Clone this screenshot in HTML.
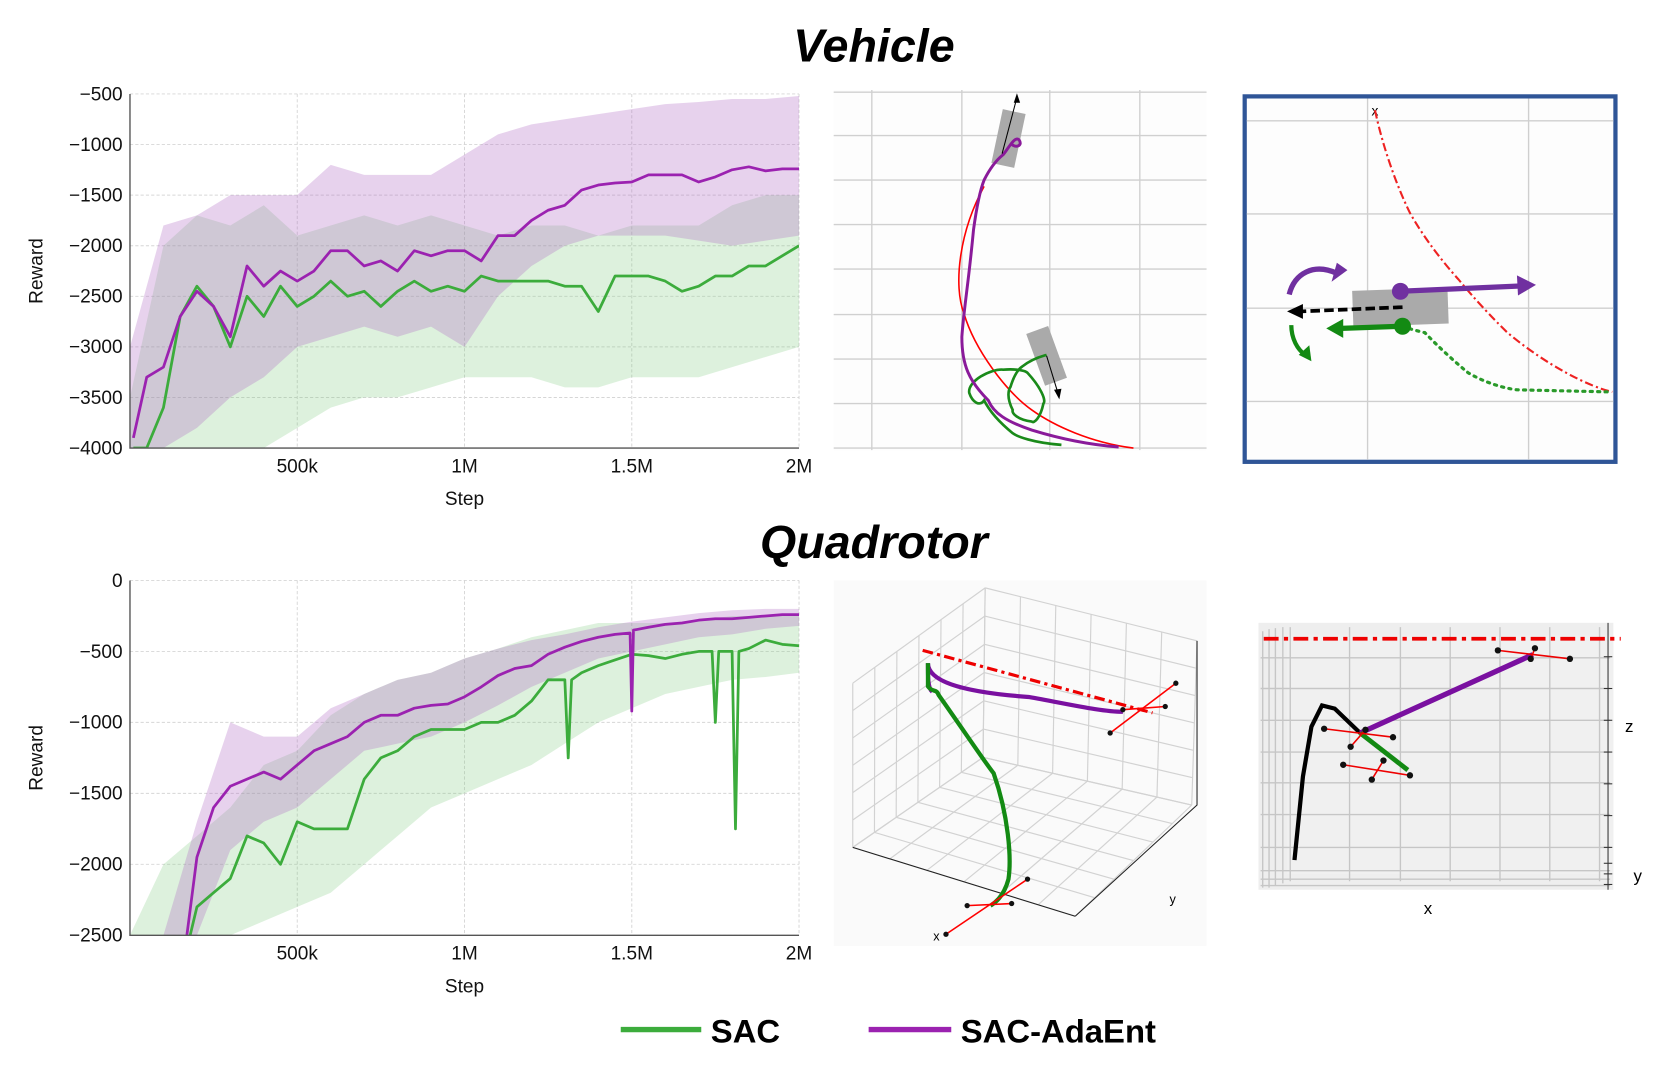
<!DOCTYPE html>
<html><head><meta charset="utf-8"><style>
html,body{margin:0;padding:0;background:#fff;}
svg{display:block;font-family:"Liberation Sans",sans-serif;}
</style></head><body>
<svg id="fig" width="1661" height="1073" viewBox="0 0 1568 1013" preserveAspectRatio="none">
<rect x="0" y="0" width="1568" height="1013" fill="#fff"/>
<text x="825" y="58" text-anchor="middle" font-size="44" font-weight="bold" font-style="italic">Vehicle</text>
<text x="825" y="527" text-anchor="middle" font-size="44" font-weight="bold" font-style="italic">Quadrotor</text>
<g id="chartV"></g>
<g id="chartQ"></g>

<!-- Vehicle trajectory panel -->
<g>
<rect x="787" y="85" width="352" height="340" fill="#fdfdfd"/>
<g stroke="#d0d0d0" stroke-width="1.3">
<line x1="787" y1="87" x2="1139" y2="87"/><line x1="787" y1="128" x2="1139" y2="128"/><line x1="787" y1="170" x2="1139" y2="170"/><line x1="787" y1="212" x2="1139" y2="212"/><line x1="787" y1="254" x2="1139" y2="254"/><line x1="787" y1="297" x2="1139" y2="297"/><line x1="787" y1="339" x2="1139" y2="339"/><line x1="787" y1="381" x2="1139" y2="381"/><line x1="787" y1="423" x2="1139" y2="423"/>
<line x1="823" y1="85" x2="823" y2="425"/><line x1="908" y1="85" x2="908" y2="425"/><line x1="991" y1="85" x2="991" y2="425"/><line x1="1076" y1="85" x2="1076" y2="425"/>
</g>
<rect x="941" y="105" width="22" height="52" fill="#aaa" transform="rotate(12 953 131)"/>
<rect x="977" y="310" width="22" height="52" fill="#aaa" transform="rotate(-20 988 336)"/>
<path d="M929,176 C905,220 900,270 910,296 C920,330 950,370 974,387 C995,402 1030,418 1070,423" fill="none" stroke="#f00" stroke-width="1.5"/>
<path d="M1002,420 C975,418 960,412 956,409 C945,400 935,390 929,378 C925,384 918,380 915,371 C913,360 935,348 947,349 C960,348 968,350 970,352 C982,365 988,378 985,381 C982,395 976,400 974,398 C960,396 955,390 956,387 C950,375 952,368 954,365 C958,352 962,348 965,346 C975,338 985,336 988,335" fill="none" stroke="#1a8a1a" stroke-width="2.5"/>
<path d="M1056,422 C1030,420 1000,414 974,406 C950,398 938,390 933,378 C915,360 908,345 908,318 C910,290 914,270 919,217 C922,195 925,180 929,170 C935,158 942,150 947,146 C952,140 958,128 962,132 C966,138 958,140 955,136" fill="none" stroke="#8a1a9a" stroke-width="2.8"/>
<line x1="946" y1="145" x2="960" y2="92" stroke="#000" stroke-width="1"/><path d="M960,88 L957,97 L963,97Z" fill="#000"/>
<line x1="988" y1="336" x2="999" y2="372" stroke="#000" stroke-width="1"/><path d="M1000,377 L995,368 L1002,367Z" fill="#000"/>
</g>

<!-- Vehicle zoom panel -->
<g>
<rect x="1175" y="91" width="350" height="345" fill="#fdfdfd" stroke="#2f5597" stroke-width="4"/>
<g stroke="#cfcfcf" stroke-width="1.3">
<line x1="1177" y1="114" x2="1523" y2="114"/><line x1="1177" y1="202" x2="1523" y2="202"/><line x1="1177" y1="291" x2="1523" y2="291"/><line x1="1177" y1="379" x2="1523" y2="379"/>
<line x1="1291" y1="93" x2="1291" y2="434"/><line x1="1443" y1="93" x2="1443" y2="434"/>
</g>
<text x="1298" y="109" text-anchor="middle" font-size="13">x</text>
<path d="M1298,104 C1310,160 1331,201 1331,201 C1350,235 1377,264 1377,264 C1400,292 1423,314 1423,314 C1460,345 1500,365 1522,370" fill="none" stroke="#e22" stroke-width="2" stroke-dasharray="8,3,2,3"/>
<path d="M1324,308 C1335,312 1345,314 1345,314 C1365,335 1386,352 1386,352 C1410,366 1432,368 1432,368 L1520,370" fill="none" stroke="#2a9a2a" stroke-width="3" stroke-dasharray="2,5" stroke-linecap="round"/>
<rect x="1277" y="273" width="90" height="34" fill="#aaa" transform="rotate(-2 1322 290)"/>
<line x1="1322" y1="275" x2="1435" y2="270" stroke="#7030a0" stroke-width="5"/><path d="M1450,269 L1432,260 L1433,279Z" fill="#7030a0"/><circle cx="1322" cy="275" r="8" fill="#7030a0"/>
<line x1="1324" y1="290" x2="1228" y2="294" stroke="#000" stroke-width="3.5" stroke-dasharray="9,4"/><path d="M1215,294 L1230,287 L1230,301Z" fill="#000"/>
<line x1="1324" y1="308" x2="1266" y2="310" stroke="#138a13" stroke-width="5"/><path d="M1252,310 L1268,301 L1268,319Z" fill="#138a13"/><circle cx="1324" cy="308" r="8" fill="#138a13"/>
<path d="M1217,278 C1222,258 1240,248 1262,258" fill="none" stroke="#7030a0" stroke-width="5"/><path d="M1272,255 L1262,248 L1257,266Z" fill="#7030a0"/>
<path d="M1219,307 C1219,320 1225,330 1232,335" fill="none" stroke="#138a13" stroke-width="4"/><path d="M1238,341 L1236,326 L1226,335Z" fill="#138a13"/>
</g>

<!-- Quadrotor 3D panel -->
<g>
<rect x="787" y="548" width="352" height="345" fill="#fafafa"/>
<g id="cube" stroke="#d2d2d2" stroke-width="1.1" fill="none"></g>
<polyline points="1130,605 1130,760 1015,865" fill="none" stroke="#222" stroke-width="1"/>
<polyline points="805,800 1015,865" fill="none" stroke="#222" stroke-width="1"/>
<line x1="871" y1="614" x2="1088" y2="673" stroke="#e00" stroke-width="3" stroke-dasharray="10,4,3,4"/>
<path d="M880,653 C876,650 876,640 876,626 C876,648 930,655 971,658 C1010,665 1040,672 1060,672" fill="none" stroke="#7a10a0" stroke-width="4"/>
<path d="M876,626 L876,648 C880,654 884,650 886,656 C910,690 930,720 938,730 C952,770 955,810 952,830 C948,845 940,852 935,855" fill="none" stroke="#138a13" stroke-width="4"/>
<g stroke="#f00" stroke-width="1.5"><line x1="1048" y1="692" x2="1110" y2="645"/><line x1="1060" y1="670" x2="1100" y2="667"/><line x1="893" y1="882" x2="970" y2="830"/><line x1="913" y1="855" x2="955" y2="853"/></g>
<g fill="#111"><circle cx="1048" cy="692" r="2.5"/><circle cx="1110" cy="645" r="2.5"/><circle cx="1100" cy="667" r="2.5"/><circle cx="1060" cy="670" r="2.5"/><circle cx="893" cy="882" r="2.5"/><circle cx="970" cy="830" r="2.5"/><circle cx="913" cy="855" r="2.5"/><circle cx="955" cy="853" r="2.5"/></g>
<text x="884" y="888" font-size="12" text-anchor="middle">x</text>
<text x="1107" y="853" font-size="12" text-anchor="middle">y</text>
</g>

<!-- Quadrotor side panel -->
<g>
<rect x="1188" y="588" width="335" height="252" fill="#eeeeee"/>
<rect x="1215" y="600" width="308" height="225" fill="#f0f0f0"/>
<g stroke="#c6c6c6" stroke-width="1.3">
<line x1="1218" y1="592" x2="1218" y2="832"/><line x1="1274" y1="592" x2="1274" y2="832"/><line x1="1322" y1="592" x2="1322" y2="832"/><line x1="1369" y1="592" x2="1369" y2="832"/><line x1="1416" y1="592" x2="1416" y2="832"/><line x1="1463" y1="592" x2="1463" y2="832"/><line x1="1510" y1="592" x2="1510" y2="832"/>
<line x1="1192" y1="596" x2="1192" y2="838"/><line x1="1198" y1="594" x2="1198" y2="838"/><line x1="1204" y1="593" x2="1204" y2="836"/><line x1="1211" y1="592" x2="1211" y2="834"/>
<line x1="1190" y1="621" x2="1520" y2="621"/><line x1="1190" y1="650" x2="1520" y2="650"/><line x1="1190" y1="680" x2="1520" y2="680"/><line x1="1190" y1="710" x2="1520" y2="710"/><line x1="1190" y1="739" x2="1520" y2="739"/><line x1="1190" y1="769" x2="1520" y2="769"/><line x1="1190" y1="800" x2="1520" y2="800"/><line x1="1190" y1="822" x2="1520" y2="822"/><line x1="1190" y1="830" x2="1520" y2="830"/><line x1="1190" y1="836" x2="1520" y2="836"/>
</g>
<line x1="1518" y1="588" x2="1518" y2="840" stroke="#333" stroke-width="1"/>
<g stroke="#333" stroke-width="1"><line x1="1514" y1="620" x2="1522" y2="620"/><line x1="1514" y1="650" x2="1522" y2="650"/><line x1="1514" y1="680" x2="1522" y2="680"/><line x1="1514" y1="710" x2="1522" y2="710"/><line x1="1514" y1="740" x2="1522" y2="740"/><line x1="1514" y1="770" x2="1522" y2="770"/><line x1="1514" y1="800" x2="1522" y2="800"/><line x1="1514" y1="815" x2="1522" y2="815"/><line x1="1514" y1="825" x2="1522" y2="825"/><line x1="1514" y1="835" x2="1522" y2="835"/></g>
<line x1="1193" y1="603" x2="1530" y2="603" stroke="#e00" stroke-width="3.5" stroke-dasharray="14,5,4,5"/>
<polyline points="1222,812 1230,733 1238,686 1248,666 1260,669 1284,692" fill="none" stroke="#000" stroke-width="4"/>
<line x1="1284" y1="692" x2="1447" y2="618" stroke="#7a10a0" stroke-width="5"/>
<line x1="1284" y1="692" x2="1329" y2="727" stroke="#138a13" stroke-width="4.5"/>
<g stroke="#e00" stroke-width="1.5"><line x1="1250" y1="688" x2="1315" y2="696"/><line x1="1275" y1="705" x2="1289" y2="689"/><line x1="1268" y1="722" x2="1331" y2="732"/><line x1="1295" y1="736" x2="1306" y2="718"/><line x1="1414" y1="614" x2="1482" y2="622"/><line x1="1445" y1="622" x2="1449" y2="612"/></g>
<g fill="#111"><circle cx="1250" cy="688" r="3"/><circle cx="1315" cy="696" r="3"/><circle cx="1275" cy="705" r="3"/><circle cx="1289" cy="689" r="3"/><circle cx="1268" cy="722" r="3"/><circle cx="1331" cy="732" r="3"/><circle cx="1295" cy="736" r="3"/><circle cx="1306" cy="718" r="3"/><circle cx="1414" cy="614" r="3"/><circle cx="1482" cy="622" r="3"/><circle cx="1445" cy="622" r="3"/><circle cx="1449" cy="612" r="3"/></g>
<text x="1538" y="691" font-size="16" text-anchor="middle">z</text>
<text x="1546" y="832" font-size="16" text-anchor="middle">y</text>
<text x="1348" y="863" font-size="16" text-anchor="middle">x</text>
</g>

<!-- Legend -->
<g>
<line x1="586" y1="972" x2="662" y2="972" stroke="#3cac3c" stroke-width="5"/>
<text x="671" y="984" font-size="31" font-weight="bold">SAC</text>
<line x1="820" y1="972" x2="898" y2="972" stroke="#9b22b0" stroke-width="5"/>
<text x="907" y="984" font-size="31" font-weight="bold">SAC-AdaEnt</text>
</g>
</svg>
<script>
// ---- Vehicle data (steps in thousands) ----
const vMeanSteps = [10,50,100,150,200,250,300,350,400,450,500,550,600,650,700,750,800,850,900,950,1000,1050,1100,1150,1200,1250,1300,1350,1400,1450,1500,1550,1600,1650,1700,1750,1800,1850,1900,1950,2000];
const vAdaMean = [-3900,-3300,-3200,-2700,-2450,-2600,-2900,-2200,-2400,-2250,-2350,-2250,-2050,-2050,-2200,-2150,-2250,-2050,-2100,-2050,-2050,-2150,-1900,-1900,-1750,-1650,-1600,-1450,-1400,-1380,-1370,-1300,-1300,-1300,-1370,-1320,-1250,-1220,-1260,-1240,-1240];
const vSacMean = [-4000,-4000,-3600,-2700,-2400,-2600,-3000,-2500,-2700,-2400,-2600,-2500,-2350,-2500,-2450,-2600,-2450,-2350,-2450,-2400,-2450,-2300,-2350,-2350,-2350,-2350,-2400,-2400,-2650,-2300,-2300,-2300,-2350,-2450,-2400,-2300,-2300,-2200,-2200,-2100,-2000];
const vBandSteps = [0,100,200,300,400,500,600,700,800,900,1000,1100,1200,1300,1400,1500,1600,1700,1800,1900,2000];
const vAdaHi = [-3000,-1800,-1700,-1500,-1500,-1500,-1200,-1300,-1300,-1300,-1100,-900,-800,-750,-700,-650,-600,-580,-550,-550,-520];
const vAdaLo = [-4000,-4000,-3800,-3500,-3300,-3000,-2900,-2800,-2900,-2800,-3000,-2500,-2200,-2000,-1900,-1900,-1900,-1950,-2000,-1950,-1900];
const vSacHi = [-3500,-2000,-1700,-1800,-1600,-1900,-1800,-1700,-1800,-1700,-1800,-1900,-1800,-1800,-1900,-1800,-1800,-1800,-1600,-1500,-1500];
const vSacLo = [-4000,-4000,-4000,-4000,-4000,-3800,-3600,-3500,-3500,-3400,-3300,-3300,-3300,-3400,-3400,-3300,-3300,-3300,-3200,-3100,-3000];
const vYTicks = [-500,-1000,-1500,-2000,-2500,-3000,-3500,-4000];
// ---- Quadrotor data ----
const qAdaSteps = [170,200,250,300,350,400,450,500,550,600,650,700,750,800,850,900,950,1000,1050,1100,1150,1200,1250,1300,1350,1400,1450,1495,1500,1505,1550,1600,1650,1700,1750,1800,1850,1900,1950,2000];
const qAdaMean = [-2500,-1950,-1600,-1450,-1400,-1350,-1400,-1300,-1200,-1150,-1100,-1000,-950,-950,-900,-880,-870,-820,-750,-670,-620,-600,-520,-470,-430,-400,-380,-370,-920,-350,-330,-310,-300,-280,-270,-270,-260,-250,-240,-240];
const qSacSteps = [180,200,250,300,350,400,450,500,550,600,650,700,750,800,850,900,950,1000,1050,1100,1150,1200,1250,1300,1310,1320,1350,1400,1450,1500,1550,1600,1650,1700,1740,1750,1760,1800,1810,1820,1850,1900,1950,2000];
const qSacMean = [-2500,-2300,-2200,-2100,-1800,-1850,-2000,-1700,-1750,-1750,-1750,-1400,-1250,-1200,-1100,-1050,-1050,-1050,-1000,-1000,-950,-850,-700,-700,-1250,-700,-650,-600,-560,-520,-530,-550,-520,-500,-500,-1000,-500,-500,-1750,-500,-480,-420,-450,-460];
const qBandSteps = [0,100,200,300,400,500,600,700,800,900,1000,1100,1200,1300,1400,1500,1600,1700,1800,1900,2000];
const qAdaHi = [-2500,-2500,-1700,-1000,-1100,-1100,-900,-800,-700,-650,-550,-480,-420,-380,-330,-290,-260,-230,-210,-200,-200];
const qAdaLo = [-2500,-2500,-2500,-1900,-1700,-1600,-1400,-1200,-1150,-1100,-1000,-880,-750,-650,-550,-500,-450,-400,-380,-340,-320];
const qSacHi = [-2500,-2000,-1800,-1600,-1300,-1200,-950,-800,-700,-650,-550,-480,-400,-350,-300,-300,-300,-280,-250,-250,-250];
const qSacLo = [-2500,-2500,-2500,-2500,-2400,-2300,-2200,-2000,-1800,-1600,-1500,-1400,-1300,-1150,-1000,-900,-800,-750,-700,-680,-650];
const qYTicks = [0,-500,-1000,-1500,-2000,-2500];
const xTickVals = [500,1000,1500,2000];
const xTickLabels = ['500k','1M','1.5M','2M'];

const NS = 'http://www.w3.org/2000/svg';
function mk(tag, attrs, parent){ const e=document.createElementNS(NS,tag); for(const k in attrs) e.setAttribute(k,attrs[k]); parent.appendChild(e); return e; }

function drawChart(gid, id, x0, x1, yTop, yBot, vTop, vBot, yTicks, bands, lines){
  const g = document.getElementById(gid);
  const sx = s => x0 + (s/2000)*(x1-x0);
  const sy = v => yTop + (vTop - Math.max(vBot, Math.min(vTop, v)))/(vTop-vBot)*(yBot-yTop);
  const defs = mk('defs',{},g);
  const cp = mk('clipPath',{id:'clip'+id},defs);
  mk('rect',{x:x0,y:yTop,width:x1-x0,height:yBot-yTop},cp);
  yTicks.forEach(v=>{
    const gl = mk('line',{x1:x0,x2:x1,y1:sy(v),y2:sy(v),stroke:'#d6d6d6','stroke-width':0.9,'stroke-dasharray':'3,2'},g);
    
    
    const t = mk('text',{x:x0-7,y:sy(v)+6,'text-anchor':'end','font-size':18,fill:'#111'},g);
    t.textContent = v===0 ? '0' : '\u2212'+Math.abs(v);
    
    
  });
  xTickVals.forEach((s,i)=>{
    const gl = mk('line',{x1:sx(s),x2:sx(s),y1:yTop,y2:yBot,stroke:'#d6d6d6','stroke-width':0.9,'stroke-dasharray':'3,2'},g);
    
    
    const t = mk('text',{x:sx(s),y:yBot+23,'text-anchor':'middle','font-size':18,fill:'#111'},g);
    t.textContent = xTickLabels[i];
    
    
  });
  const cg = mk('g',{'clip-path':'url(#clip'+id+')'},g);
  bands.forEach(b=>{
    let d='';
    b.steps.forEach((s,i)=>{ d += (i?'L':'M')+sx(s).toFixed(1)+','+sy(b.hi[i]).toFixed(1); });
    for(let i=b.steps.length-1;i>=0;i--) d += 'L'+sx(b.steps[i]).toFixed(1)+','+sy(b.lo[i]).toFixed(1);
    const p = mk('path',{d:d+'Z',fill:b.color,stroke:'none'},cg);
    
    
  });
  lines.forEach(l=>{
    const pts = l.steps.map((s,i)=>sx(s).toFixed(1)+','+sy(l.vals[i]).toFixed(1)).join(' ');
    const p = mk('polyline',{points:pts,fill:'none',stroke:l.color,'stroke-width':2.6,'stroke-linejoin':'round'},cg);
    
    
  });
  const ax = mk('path',{d:`M${x0},${yTop}L${x0},${yBot}L${x1},${yBot}`,fill:'none',stroke:'#555','stroke-width':1.3},g);
  
  
  const yl = mk('text',{x:0,y:0,transform:`translate(40,${(yTop+yBot)/2}) rotate(-90)`,'text-anchor':'middle','font-size':18,fill:'#111'},g);
  yl.textContent='Reward';
  
  
  const xl = mk('text',{x:(x0+x1)/2,y:yBot+54,'text-anchor':'middle','font-size':18,fill:'#111'},g);
  xl.textContent='Step';
  
  
}

drawChart('chartV','V',122.7,754.3,88.7,423,-500,-4000,vYTicks,
  [{steps:vBandSteps,hi:vSacHi,lo:vSacLo,color:'rgba(120,200,120,0.25)',name:'sac-band'},
   {steps:vBandSteps,hi:vAdaHi,lo:vAdaLo,color:'rgba(175,105,195,0.3)',name:'sac-adaent-band'}],
  [{steps:vMeanSteps,vals:vSacMean,color:'#3cac3c',name:'sac-line'},
   {steps:vMeanSteps,vals:vAdaMean,color:'#9b22b0',name:'sac-adaent-line'}]);
drawChart('chartQ','Q',122.7,754.3,548,883,0,-2500,qYTicks,
  [{steps:qBandSteps,hi:qSacHi,lo:qSacLo,color:'rgba(120,200,120,0.25)',name:'sac-band'},
   {steps:qBandSteps,hi:qAdaHi,lo:qAdaLo,color:'rgba(175,105,195,0.3)',name:'sac-adaent-band'}],
  [{steps:qSacSteps,vals:qSacMean,color:'#3cac3c',name:'sac-line'},
   {steps:qAdaSteps,vals:qAdaMean,color:'#9b22b0',name:'sac-adaent-line'}]);

// 3D cube grid (illustration)
(function(){
  const g=document.getElementById('cube');
  const lerp=(a,b,t)=>[a[0]+(b[0]-a[0])*t,a[1]+(b[1]-a[1])*t];
  const planes=[
    [[805,645],[930,555],[928,715],[805,800]],
    [[930,555],[1130,605],[1125,760],[928,715]],
    [[805,800],[928,715],[1125,760],[1015,865]]];
  planes.forEach(P=>{
    for(let i=0;i<=6;i++){
      const t=i/6;
      let a=lerp(P[0],P[1],t), b=lerp(P[3],P[2],t);
      const l1=mk('line',{x1:a[0],y1:a[1],x2:b[0],y2:b[1]},g);
      
      
      a=lerp(P[0],P[3],t); b=lerp(P[1],P[2],t);
      const l2=mk('line',{x1:a[0],y1:a[1],x2:b[0],y2:b[1]},g);
      
      
    }
  });
})();
</script>
</body></html>
